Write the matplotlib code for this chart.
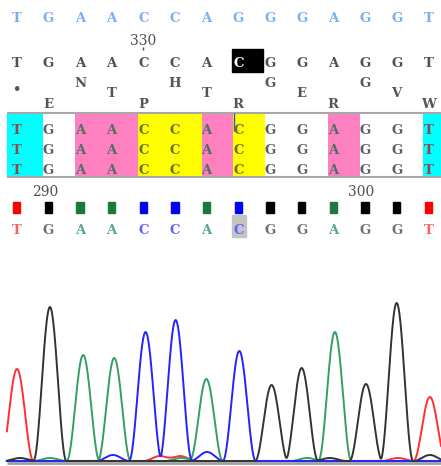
import numpy as np
import matplotlib.pyplot as plt
from matplotlib.patches import Rectangle

# sequence data
ref_bases = list("TGAACCAGGGAGGT")
read_bases = list("TGAACCACGGAGGT")
translation = ["*", "E", "N", "T", "P", "H", "T", "R", "G", "E", "R", "G", "V", "W"]
aligned_reads = ["TGAACCACGGAGGT", "TGAACCACGGAGGT", "TGAACCACGGAGGT"]
called_bases = list("TGAACCACGGAGGT")
mismatch_col = 7
top_number = (4, "330")
bottom_numbers = [(1, "290"), (11, "300")]

# chromatogram peaks (column position, height in px)
peak_pos = [0.01, 1.05, 2.1, 3.08, 4.07, 5.02, 5.99, 7.03, 8.05, 9.0, 10.05, 11.03, 12.0, 13.05]
peak_height = [92, 154, 106, 103, 129, 141, 82, 110, 76, 93, 129, 77, 158, 64]
# small background bumps (base, position, height)
minor_peaks = [("G", 0.1, 3), ("A", 1.05, 3), ("C", 3.04, 6), ("T", 4.53, 5), ("T", 5.16, 5),
               ("C", 6.01, 9), ("A", 5.2, 3), ("A", 9.17, 3), ("G", 9.89, 3),
               ("T", 12.04, 3), ("G", 13.05, 6)]

cell_colors = {"T": "#00ffff", "A": "#ff80c0", "C": "#ffff00", "G": "#ffffff"}
align_text = {"T": "#8e4a4a", "G": "#606060", "A": "#4f6f5f", "C": "#6a6a3a"}
base_text = {"T": "#ff6060", "G": "#707070", "A": "#55aa80", "C": "#6060ff"}
square_colors = {"T": "#ff0000", "G": "#000000", "A": "#1a7a3a", "C": "#0000ff"}
trace_colors = {"T": "#ff3030", "A": "#33a062", "C": "#2424ff", "G": "#333333"}

font = "DejaVu Serif"
fs = 9.5

fig = plt.figure(figsize=(4.41, 4.66), dpi=100)
ax = fig.add_axes([0, 0, 1, 1])
ax.set_xlim(-0.527, 13.4)
ax.set_ylim(466, 0)
ax.axis("off")

cols = np.arange(len(ref_bases))
bold = dict(family=font, fontsize=fs, fontweight="bold", ha="center", va="baseline")

# reference row
for c, b in zip(cols, ref_bases):
    ax.text(c, 22.5, b, color="#78aef2", **bold)

# position label with tick
ax.text(top_number[0], 45, top_number[1], color="#505050", family=font, fontsize=fs + 0.5,
        ha="center", va="baseline")
ax.vlines(top_number[0], 46.5, 50, color="#505050", lw=1)

# read row with mismatch highlight
ax.add_patch(Rectangle((mismatch_col - 0.2, 49), 0.98, 23, color="black", zorder=1))
for c, b in zip(cols, read_bases):
    ax.text(c, 67, b, color="white" if c == mismatch_col else "#505050", zorder=2, **bold)

# three-frame translation
frame_y = [97, 108, 87]
for c, aa in zip(cols, translation):
    txt = "\u2022" if aa == "*" else aa
    ax.text(c, frame_y[c % 3] - (4 if aa == "*" else 0), txt, color="#555555", **bold)

# alignment block
for c, b in zip(cols, aligned_reads[0]):
    left = c - 0.16 if c > 0 else -0.31
    width = (c + 0.84) - left
    ax.bar(left, 64, width=width, bottom=113, align="edge", color=cell_colors[b], zorder=0)
ax.hlines([113, 177], -0.31, 13.5, color="#a8a8a8", lw=1.5)
row_y = [134, 154, 174]
for r, seq in enumerate(aligned_reads):
    for c, b in enumerate(seq):
        ax.text(c, row_y[r], b, color=align_text[b], **bold)
ax.vlines(6.87, 113, 131, color="#3050d0", lw=1)

# numbering under alignment
for c, lab in bottom_numbers:
    ax.text(c - 0.11, 196, lab, color="#505050", family=font, fontsize=fs + 0.5,
            ha="center", va="baseline")

# quality squares and called bases
for c, b in zip(cols, called_bases):
    ax.add_patch(Rectangle((c - 0.12, 202), 0.24, 11, color=square_colors[b]))
ax.add_patch(Rectangle((mismatch_col - 0.2, 215), 0.44, 22, color="#c4c4c4", zorder=0))
for c, b in zip(cols, called_bases):
    ax.text(c, 234, b, color=base_text[b], **bold)

# chromatogram
ax2 = fig.add_axes([0, 0, 1, 176 / 466])
ax2.set_xlim(-0.527, 13.4)
ax2.set_ylim(-5, 171)
ax2.axis("off")
ax2.patch.set_alpha(0)

x = np.linspace(-0.31, 13.45, 2000)
W = 0.52


def bump(center, height):
    d = np.abs(x - center)
    y = height * np.cos(np.pi * d / (2 * W)) ** 2
    y[d > W] = 0
    return y


traces = {b: np.zeros_like(x) for b in "TACG"}
for b, p, h in zip(called_bases, peak_pos, peak_height):
    traces[b] += bump(p, h)
for b, p, h in minor_peaks:
    traces[b] += bump(p, h)

ax2.hlines(-1.5, -0.31, 13.5, color="#a0a0a0", lw=2)
for b in ["T", "A", "C", "G"]:
    ax2.plot(x, traces[b], color=trace_colors[b], lw=1.4)

fig.savefig("out.png", dpi=100)
